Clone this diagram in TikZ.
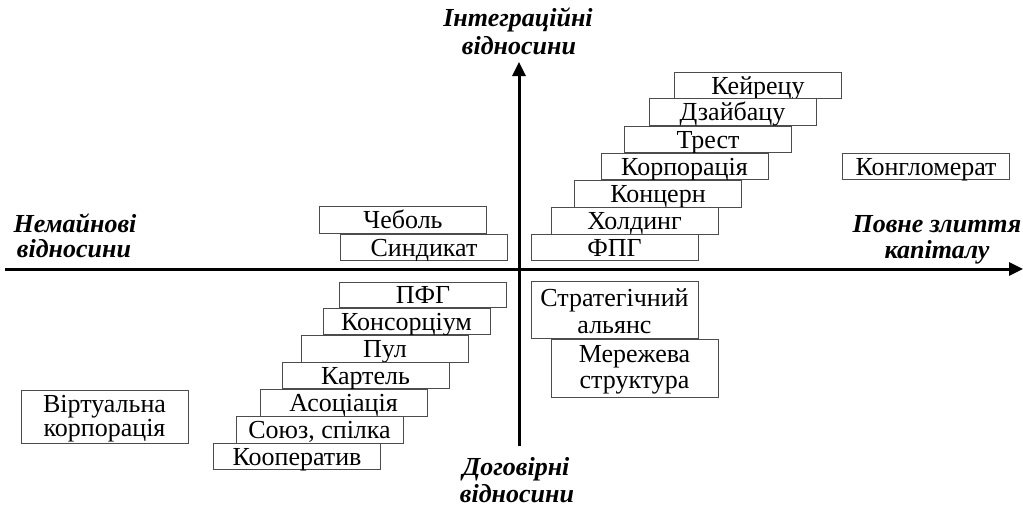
\documentclass[tikz,border=0pt]{standalone}
\usepackage{fontspec}
\setmainfont{Liberation Serif}
\usetikzlibrary{arrows.meta}
\newcommand{\twolines}[3]{\parbox[b]{164pt}{\centering\fontsize{26}{#1}\selectfont #2\\#3}}
\begin{document}
\begin{tikzpicture}[x=1pt,y=-1pt,
 box/.style={draw=black!70, line width=0.8pt, fill=white, inner sep=0pt,
   minimum width=167pt, minimum height=26pt, text height=18pt, text depth=0pt,
   font=\fontsize{26}{28}\selectfont},
 boxtwo/.style={draw=black!70, line width=0.8pt, fill=white, inner sep=0pt,
   minimum width=167pt, text depth=0pt},
 axlbl/.style={font=\fontsize{26}{28}\selectfont\bfseries\itshape, anchor=base, inner sep=0pt},
 axisline/.style={line width=3pt, -{Triangle[length=14pt,width=13pt]}}
]
\useasboundingbox (0,0) rectangle (1023,506);

% axes
\coordinate (hL) at (5,269);
\coordinate (hR) at (1023,269);
\coordinate (vB) at (519,446);
\coordinate (vT) at (519,62);
\draw[axisline] (hL) -- (hR);
\draw[axisline] (vB) -- (vT);

% axis labels
\node[axlbl] (t1) at (518,27) {Інтеграційні};
\node[axlbl] (t2) at (519,54) {відносини};
\node[axlbl] (b1) at (516,475) {Договірні};
\node[axlbl] (b2) at (517,502) {відносини};
\node[axlbl] (l1) at (75,232) {Немайнові};
\node[axlbl] (l2) at (74,257) {відносини};
\node[axlbl] (r1) at (937,232) {Повне злиття};
\node[axlbl] (r2) at (937,258) {капіталу};

% upper right staircase
\node[box] (keir) at (758,85) {Кейрецу};
\node[box, minimum height=27pt] (dzai) at (732.5,111.5) {Дзайбацу};
\node[box] (trest) at (708,139) {Трест};
\node[box] (korp) at (684.5,166) {Корпорація};
\node[box, minimum height=27pt] (konc) at (658,193.5) {Концерн};
\node[box, minimum height=27pt] (hold) at (634.5,220.5) {Холдинг};
\node[box] (fpg) at (614.5,247) {ФПГ};
\node[box] (konglo) at (926,166) {Конгломерат};

% upper left
\node[box, minimum height=27pt] (cheb) at (403,219.5) {Чеболь};
\node[box] (synd) at (424,247) {Синдикат};

% lower left staircase
\node[box, minimum height=25pt] (pfg) at (423,294.5) {ПФГ};
\node[box] (kons) at (406.5,321) {Консорціум};
\node[box, minimum height=27pt] (pul) at (385,348.5) {Пул};
\node[box] (kart) at (365.5,375) {Картель};
\node[box, minimum height=27pt] (asoc) at (343.5,402.5) {Асоціація};
\node[box, minimum height=27pt] (soyuz) at (319.5,429.5) {Союз, спілка};
\node[box] (koop) at (297,456) {Кооператив};

% lower right
\node[boxtwo, minimum height=57pt, text height=47pt] (strat) at (614.5,309.5) {\twolines{27}{Стратегічний}{альянс}};
\node[boxtwo, minimum height=58pt, text height=40pt] (merezh) at (634.5,368) {\twolines{26}{Мережева}{структура}};

% far left
\node[boxtwo, minimum height=53pt, text height=39pt] (virt) at (104.5,416.5) {\twolines{24}{Віртуальна}{корпорація}};
\end{tikzpicture}
\end{document}
